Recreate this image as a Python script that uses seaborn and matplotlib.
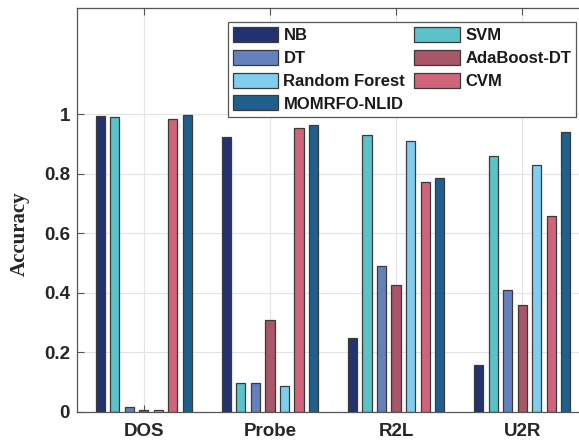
import matplotlib
matplotlib.use("Agg")
import matplotlib.pyplot as plt
import seaborn as sns
import pandas as pd
from matplotlib.patches import Patch

categories = ["DOS", "Probe", "R2L", "U2R"]
methods = ["NB", "SVM", "DT", "AdaBoost-DT", "Random Forest", "CVM", "MOMRFO-NLID"]
values = {
    "NB":            [0.994, 0.922, 0.248, 0.159],
    "SVM":           [0.991, 0.098, 0.931, 0.860],
    "DT":            [0.016, 0.098, 0.489, 0.408],
    "AdaBoost-DT":   [0.007, 0.310, 0.428, 0.359],
    "Random Forest": [0.007, 0.088, 0.910, 0.830],
    "CVM":           [0.983, 0.952, 0.771, 0.659],
    "MOMRFO-NLID":   [0.997, 0.965, 0.786, 0.939],
}
yticks = [0, 0.2, 0.4, 0.6, 0.8, 1]
ytick_labels = ["0", "0.2", "0.4", "0.6", "0.8", "1"]
colors = ["#233370", "#5bc3c7", "#6481bd", "#a85668", "#81cdee", "#d0647a", "#1f5f8b"]

rows = []
for m in methods:
    for c, v in zip(categories, values[m]):
        rows.append({"Attack": c, "Method": m, "Accuracy": v})
df = pd.DataFrame(rows)

sns.set_theme(style="white")
plt.rcParams["font.family"] = ["Liberation Sans", "DejaVu Sans"]

W, H = 579, 442
fig = plt.figure(figsize=(W / 100, H / 100), dpi=100)
left, right, top, bottom = 77, 589, 7.5, 412
ax = fig.add_axes([left / W, 1 - bottom / H, (right - left) / W, (bottom - top) / H])

sns.barplot(data=df, x="Attack", y="Accuracy", hue="Method", hue_order=methods,
            order=categories, palette=colors, width=0.807, gap=0.37,
            edgecolor="#3a3a3a", linewidth=0.9, saturation=1, ax=ax, legend=False)

ax.set_ylim(0, 1.358)
ax.set_xlim(-0.53, 3.53)
ax.set_yticks(yticks)
ax.set_yticklabels(ytick_labels, fontsize=13.5, fontweight="bold", color="#262626")
ax.set_xticks(range(len(categories)))
ax.set_xticklabels(categories, fontsize=13.5, fontweight="bold", color="#262626")
ax.set_xlabel("")
ax.set_ylabel("")
ax.grid(True, color="#e3e3e3", linewidth=0.8)
ax.set_axisbelow(True)
for s in ax.spines.values():
    s.set_color("#555555")
    s.set_linewidth(0.9)
    s.set_visible(True)
ax.tick_params(axis="both", direction="in", length=5, width=0.8, color="#555555",
               top=True, right=True, bottom=True, left=True)
ax.tick_params(axis="x", pad=8)
ax.tick_params(axis="y", pad=5)

fig.text(20 / W, 1 - 234 / H, "Accuracy", rotation=90, ha="center", va="center",
         fontsize=15, fontweight="bold", family=["Liberation Serif", "DejaVu Serif"],
         color="#262626")

leg_order = ["NB", "DT", "Random Forest", "MOMRFO-NLID", "SVM", "AdaBoost-DT", "CVM"]
handles = [Patch(facecolor=colors[methods.index(m)], edgecolor="#3a3a3a", linewidth=0.9, label=m)
           for m in leg_order]
leg = fig.legend(handles=handles, loc="upper right", bbox_to_anchor=(576 / W, 1 - 22 / H),
                 bbox_transform=fig.transFigure, ncol=2,
                 prop={"weight": "bold", "size": 12},
                 handlelength=2.75, handleheight=1.0, handletextpad=0.3,
                 columnspacing=0.55, labelspacing=0.4, borderpad=0.3,
                 borderaxespad=0, fancybox=False, framealpha=1, edgecolor="#555555")
leg.get_frame().set_linewidth(0.9)
for t in leg.get_texts():
    t.set_color("#1a1a1a")

fig.savefig("out.png", dpi=100)
